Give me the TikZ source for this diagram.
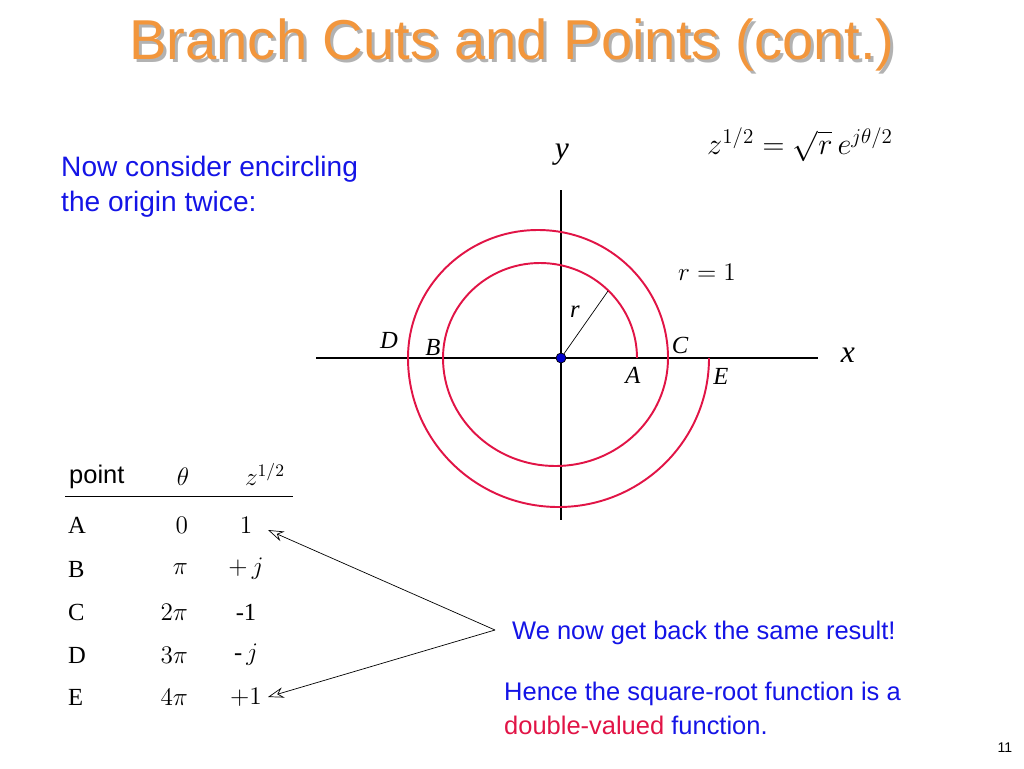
\documentclass[tikz,border=0pt]{standalone}
\usepackage{amsmath}
\usepackage{fontspec}
\setmainfont{Liberation Serif}
\setsansfont{Liberation Sans}
\usetikzlibrary{arrows.meta}
\definecolor{titleorange}{RGB}{242,150,60}
\definecolor{textblue}{RGB}{20,20,230}
\definecolor{curvered}{RGB}{225,20,70}
\begin{document}
\begin{tikzpicture}[x=0.02cm,y=-0.02cm,
   sans/.style={font=\sffamily\fontsize{14.5}{19}\selectfont,text=textblue,align=left},
   lbl/.style={font=\fontsize{14}{16}\selectfont\itshape,inner sep=1pt},
   cell/.style={font=\fontsize{14}{16}\selectfont,inner sep=1pt},
   axis/.style={draw=black,thick},
   loop/.style={draw=curvered,line width=1.1pt},
   pointer/.style={draw=black,-{Stealth[open,length=9pt,width=6pt]}}]
   \useasboundingbox (0,0) rectangle (1024,768);
   % title with its shadow
   \node[font=\sffamily\fontsize{32}{36}\selectfont,text=gray!60] at (515,48) {Branch Cuts and Points (cont.)};
   \node[font=\sffamily\fontsize{32}{36}\selectfont,text=titleorange] (title) at (512,45) {Branch Cuts and Points (cont.)};
   \node[sans,font=\sffamily\fontsize{16}{20}\selectfont,anchor=north west] (intro) at (55,150) {Now consider encircling\\the origin twice:};
   \node[font=\fontsize{17}{20}\selectfont] (formula) at (800,145) {$z^{1/2}=\sqrt{r}\,e^{j\theta/2}$};
   % axes
   \coordinate (O) at (561,358);
   \coordinate (xl) at (316,358); \coordinate (xr) at (818,358);
   \coordinate (yt) at (561,190); \coordinate (yb) at (561,520);
   \draw[axis] (xl) -- (xr);
   \draw[axis] (yt) -- (yb);
   \node[lbl,font=\fontsize{18}{20}\selectfont\itshape] (ylab) at (562,155) {y};
   \node[lbl,font=\fontsize{18}{20}\selectfont\itshape] (xlab) at (848,355) {x};
   % the path around the origin, twice
   \draw[loop] (637,358) arc[start angle=0,end angle=-180,x radius=97,y radius=95]
      arc[start angle=180,end angle=0,x radius=112.5,y radius=108]
      arc[start angle=0,end angle=-180,x radius=130,y radius=128]
      arc[start angle=180,end angle=0,x radius=150.5,y radius=149];
   \coordinate (rend) at (608,291);
   \draw (O) -- (rend);
   \fill[blue!80!black] (O) circle[radius=5];
   \draw (O) circle[radius=5];
   \node[lbl] (rlab) at (575,312) {r};
   \node[cell] (rone) at (707,272) {$r=1$};
   \foreach \p/\x/\y in {D/389/340,B/433/347,C/680/345,A/633/375,E/721/376}
      \node[lbl] (pt\p) at (\x,\y) {\p};
   % table
   \node[font=\sffamily\fontsize{14.5}{16}\selectfont,anchor=west] (hpoint) at (63,477) {point};
   \node[cell] (htheta) at (183,477) {$\theta$};
   \node[cell] (hz) at (265,474) {$z^{1/2}$};
   \draw (65,496) -- (293,496);
   \foreach \n/\p/\t/\v/\y in {1/A/$0$/$1$/525,2/B/$\pi$/$+\,j$/569,3/C/$2\pi$/-1/612,4/D/$3\pi$/-\,$j$/655,5/E/$4\pi$/$+1$/697}{
      \node[cell,anchor=west] (p\n) at (66,\y) {\p};
      \node[cell,anchor=east] (t\n) at (190,\y) {\t};
      \node[cell] (v\n) at (246,\y) {\v};
   }
   \coordinate (tip) at (495,630);
   \coordinate (to1) at (268,530);
   \coordinate (to5) at (268,697);
   \draw[pointer] (tip) -- (to1);
   \draw[pointer] (tip) -- (to5);
   \node[sans,anchor=west] (same) at (506,633) {We now get back the same result!};
   \node[sans,anchor=north west] (hence) at (498,676) {Hence the square-root function is a\\\textcolor{curvered}{double-valued} function.};
   \node[font=\sffamily\fontsize{8}{10}\selectfont] (page) at (1005,748) {11};
\end{tikzpicture}
\end{document}
